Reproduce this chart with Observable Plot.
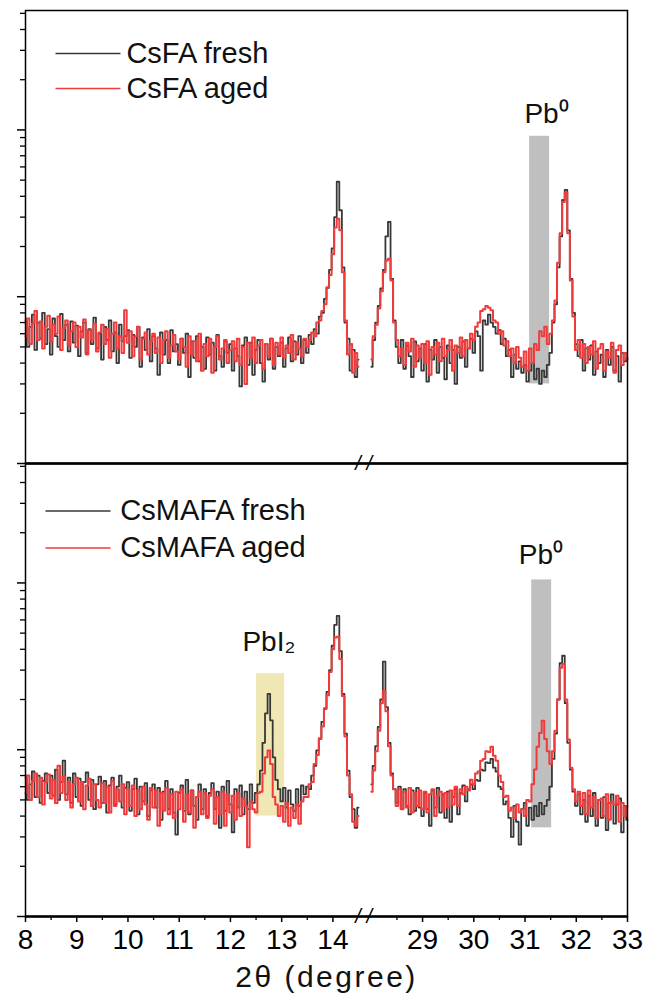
<!DOCTYPE html>
<html>
<head>
<meta charset="utf-8">
<script src="https://cdn.jsdelivr.net/npm/d3@7"></script>
<script src="https://cdn.jsdelivr.net/npm/@observablehq/plot@0.6"></script>
<style>
  html, body { margin: 0; padding: 0; background: #fff; }
  #chart { width: 648px; height: 1001px; }
</style>
</head>
<body>
<div id="chart"></div>
<script>
// XRD patterns (log intensity, a.u.) of fresh and aged films, 0.05° steps.
// Low-angle segment: 8.00–14.50°, high-angle segment: 28.00–33.00°.
const step = 0.05;
const lowStart = 8.0;
const highStart = 28.0;

const csfaFreshLow = [
  72, 50, 66, 78, 48, 70, 56, 80, 52, 64,
  45, 74, 58, 50, 79, 55, 68, 47, 71, 53,
  67, 44, 62, 70, 46, 64, 52, 75, 49, 60,
  42, 66, 55, 72, 47, 61, 40, 68, 54, 58,
  63, 43, 59, 50, 66, 38, 57, 48, 64, 41,
  58, 49, 34, 61, 45, 55, 40, 63, 47, 52,
  39, 56, 46, 60, 33, 54, 43, 58, 41, 50,
  37, 57, 45, 53, 36, 59, 44, 38, 54, 46,
  52, 36, 49, 44, 29, 51, 57, 39, 53, 34,
  48, 55, 40, 31, 52, 42, 56, 37, 50, 44,
  53, 38, 49, 57, 41, 54, 45, 58, 40, 55,
  46, 59, 52, 64, 60, 76, 80, 97, 113, 145,
  195, 300, 489, 330, 150, 70, 56, 36, 48, 33,
  42
];
const csfaAgedLow = [
  58, 74, 52, 69, 82, 55, 71, 49, 66, 77,
  54, 68, 60, 76, 48, 65, 72, 51, 62, 70,
  50, 66, 57, 73, 45, 63, 55, 69, 47, 61,
  68, 52, 64, 43, 60, 70, 49, 58, 46, 83,
  53, 62, 44, 58, 66, 42, 56, 61, 45, 54,
  60, 46, 57, 40, 55, 62, 43, 51, 59, 47,
  42, 56, 50, 38, 58, 45, 54, 41, 60, 36,
  52, 44, 56, 35, 50, 58, 42, 49, 55, 40,
  48, 54, 41, 56, 39, 50, 30, 53, 43, 57,
  40, 51, 55, 37, 52, 44, 56, 39, 53, 45,
  57, 43, 51, 46, 59, 42, 53, 49, 44, 56,
  50, 55, 61, 58, 70, 72, 82, 90, 114, 135,
  180, 260, 293, 250, 140, 72, 45, 52, 35, 46,
  38
];
const csfaFreshHigh = [
  38, 55, 70, 88, 112, 145, 230, 281, 128, 72,
  50, 40, 55, 37, 51, 44, 33, 54, 41, 49,
  36, 52, 31, 48, 42, 55, 35, 50, 43, 32,
  51, 40, 48, 30, 50, 43, 54, 38, 49, 56,
  46, 62, 58, 36, 72, 68, 78, 70, 66, 60,
  63, 52, 56, 44, 48, 33, 45, 37, 41, 35,
  39, 31, 36, 40, 32, 37, 30, 36, 33, 39,
  46, 70, 90, 150, 230, 380, 437, 250, 128, 80,
  52, 44, 55, 36, 49, 42, 51, 34, 47, 40,
  45, 33, 48, 39, 50, 36, 44, 31, 46, 41,
  43
];
const csfaAgedHigh = [
  42, 58, 68, 85, 108, 140, 165, 169, 125, 70,
  55, 44, 49, 39, 53, 47, 56, 38, 51, 43,
  52, 40, 54, 34, 50, 45, 53, 41, 56, 44,
  48, 55, 36, 51, 46, 57, 44, 55, 49, 60,
  55, 66, 70, 82, 84, 88, 86, 83, 72, 70,
  60, 62, 51, 54, 44, 49, 40, 50, 43, 38,
  47, 36, 49, 40, 52, 48, 62, 58, 66, 52,
  60, 72, 95, 160, 240, 370, 420, 240, 125, 76,
  48, 55, 43, 52, 40, 50, 45, 54, 37, 49,
  52, 36, 47, 43, 53, 35, 48, 51, 39, 46,
  42
];
const csmafaFreshLow = [
  68, 50, 62, 74, 52, 70, 48, 65, 72, 55,
  70, 53, 76, 50, 64, 86, 54, 68, 48, 72,
  52, 67, 46, 64, 73, 50, 66, 44, 62, 69,
  48, 65, 42, 61, 68, 47, 60, 70, 45, 59,
  64, 43, 58, 67, 41, 60, 49, 63, 40, 57,
  62, 45, 59, 38, 56, 65, 44, 58, 42, 31,
  55, 61, 43, 66, 41, 57, 46, 38, 62, 44,
  58, 40, 55, 63, 44, 56, 34, 60, 43, 65,
  47, 32, 58, 45, 61, 41, 56, 44, 62, 48,
  55, 62, 75, 110, 165, 216, 150, 90, 66, 58,
  49, 59, 45, 57, 47, 43, 58, 46, 61, 54,
  60, 58, 70, 80, 99, 116, 147, 176, 222, 300,
  420, 560, 634, 390, 216, 125, 75, 52, 44, 34,
  45
];
const csmafaAgedLow = [
  55, 70, 50, 65, 72, 52, 68, 47, 64, 71,
  51, 66, 48, 80, 55, 69, 50, 64, 45, 62,
  68, 49, 64, 44, 61, 67, 46, 62, 50, 45,
  63, 48, 60, 42, 65, 46, 58, 49, 62, 41,
  58, 46, 61, 40, 57, 44, 60, 47, 38, 59,
  45, 57, 35, 55, 43, 59, 41, 54, 39, 56,
  44, 58, 37, 54, 42, 57, 34, 52, 56, 41,
  55, 39, 53, 58, 36, 52, 41, 56, 35, 54,
  42, 53, 38, 55, 40, 51, 46, 26, 49, 44,
  42, 55, 56, 72, 90, 99, 82, 52, 47, 40,
  46, 37, 48, 35, 45, 39, 47, 36, 49, 52,
  52, 62, 64, 82, 93, 117, 138, 177, 212, 292,
  400, 470, 475, 350, 210, 120, 70, 54, 37, 35,
  40
];
const csmafaFreshHigh = [
  62, 80, 105, 137, 200, 337, 180, 110, 72, 58,
  48, 60, 44, 58, 46, 41, 57, 43, 59, 45,
  40, 55, 44, 35, 57, 45, 59, 42, 54, 39,
  56, 37, 52, 58, 41, 55, 61, 49, 58, 62,
  58, 66, 65, 76, 75, 84, 83, 88, 78, 74,
  60, 58, 47, 49, 39, 30, 46, 37, 27, 44,
  48, 35, 45, 38, 46, 40, 48, 41, 46, 50,
  60, 88, 125, 200, 330, 366, 190, 110, 76, 56,
  46, 54, 41, 50, 37, 53, 40, 55, 35, 50,
  39, 52, 33, 48, 54, 36, 47, 51, 32, 46,
  38
];
const csmafaAgedHigh = [
  56, 75, 98, 130, 190, 225, 170, 105, 70, 58,
  46, 58, 44, 56, 45, 59, 42, 55, 46, 57,
  44, 56, 42, 54, 58, 40, 53, 56, 43, 55,
  45, 57, 47, 60, 46, 58, 54, 60, 57, 66,
  62, 72, 74, 86, 88, 98, 97, 104, 92, 86,
  70, 64, 52, 53, 43, 45, 39, 47, 42, 44,
  40, 50, 49, 62, 76, 104, 126, 149, 116, 98,
  82, 98, 130, 200, 310, 327, 200, 115, 78, 58,
  49, 56, 46, 55, 41, 57, 45, 52, 39, 50,
  51, 40, 54, 38, 49, 47, 53, 37, 48, 40,
  46
];

const panels = ["CsFA", "CsMAFA"];
const samples = ["fresh", "aged"];

// Broken 2θ axis: 8–14.6° continues directly into 27.85–33°
const breakLow = 14.6;
const breakHigh = 27.85;
const xMin = 8;
const xMax = 33;

const xTicksLow = [8, 9, 10, 11, 12, 13, 14];
const xTicksHigh = [29, 30, 31, 32, 33];
const xMinorLow = [8.5, 9.5, 10.5, 11.5, 12.5, 13.5];
const xMinorHigh = [28.5, 29.5, 30.5, 31.5, 32.5];
const xLabel = "2θ (degree)";

const yMajor = [10, 100, 1000];
const yMinor = [20, 30, 40, 50, 60, 70, 80, 90, 200, 300, 400, 500, 600, 700, 800, 900, 2000, 3000, 4000, 5000];
const yMin = 10;
const yMax = 5200;

// Highlighted phase regions (2θ range and intensity span)
const bandPanel = ["CsFA", "CsMAFA", "CsMAFA"];
const bandPhase = ["Pb0", "Pb0", "PbI2"];
const bandFrom = [31.09, 31.13, 12.51];
const bandTo = [31.48, 31.52, 13.06];
const bandLow = [30, 34, 40];
const bandHigh = [916, 1042, 286];

// Phase annotations
const notePanel = ["CsFA", "CsMAFA", "CsMAFA"];
const noteText = ["Pb⁰", "Pb⁰", "PbI₂"];
const noteX = [31.42, 31.31, 12.75];
const noteY = [1248, 1462, 444];

// --- mapping of the broken axis onto one continuous position ---
const gap = breakHigh - breakLow;
const toU = x => (x <= breakLow ? x : x - gap);
const fromU = u => (u <= breakLow ? u : u + gap);

const colors = {fresh: "#383838", aged: "#ef3b3b", Pb0: "#bfbfbf", PbI2: "#efe8b4"};

const series = [
  {panel: "CsFA", sample: "fresh", start: lowStart, values: csfaFreshLow},
  {panel: "CsFA", sample: "fresh", start: highStart, values: csfaFreshHigh},
  {panel: "CsFA", sample: "aged", start: lowStart, values: csfaAgedLow},
  {panel: "CsFA", sample: "aged", start: highStart, values: csfaAgedHigh},
  {panel: "CsMAFA", sample: "fresh", start: lowStart, values: csmafaFreshLow},
  {panel: "CsMAFA", sample: "fresh", start: highStart, values: csmafaFreshHigh},
  {panel: "CsMAFA", sample: "aged", start: lowStart, values: csmafaAgedLow},
  {panel: "CsMAFA", sample: "aged", start: highStart, values: csmafaAgedHigh}
];

const points = series.flatMap((s, k) =>
  s.values.map((v, i) => ({
    panel: s.panel,
    sample: s.sample,
    key: k,
    u: toU(+(s.start + i * step).toFixed(2)),
    v
  }))
);

const bands = bandPanel.map((p, i) => ({
  panel: p, phase: bandPhase[i],
  u1: toU(bandFrom[i]), u2: toU(bandTo[i]),
  y1: bandLow[i], y2: bandHigh[i]
}));

const notes = notePanel.map((p, i) => ({panel: p, text: noteText[i], u: toU(noteX[i]), y: noteY[i]}));

// legend placement inside each panel (x in axis units, one row per sample)
const legendLayout = {
  CsFA: {x1: 8.585, x2: 9.854, tx: 9.97, y: [2875, 1774]},
  CsMAFA: {x1: 8.39, x2: 9.66, tx: 9.85, y: [2702, 1622]}
};
const legend = panels.flatMap(p => samples.map((s, r) => ({
  panel: p, sample: s, label: `${p} ${s}`,
  x1: legendLayout[p].x1, x2: legendLayout[p].x2, tx: legendLayout[p].tx, y: legendLayout[p].y[r]
})));

const font = "'Liberation Sans', Arial, Helvetica, sans-serif";

const chart = Plot.plot({
  width: 648,
  height: 1001,
  marginTop: 9,
  marginBottom: 85,
  marginLeft: 25,
  marginRight: 21,
  style: {fontFamily: font, background: "#fff", color: "#000", overflow: "visible"},
  x: {domain: [xMin, toU(xMax)], axis: null},
  y: {type: "log", domain: [yMin, yMax], axis: null},
  fy: {domain: panels, axis: null, padding: 0},
  marks: [
    Plot.rect(bands, {x1: "u1", x2: "u2", y1: "y1", y2: "y2", fy: "panel", fill: d => colors[d.phase]}),
    Plot.line(points, {
      filter: d => d.sample === "fresh",
      x: "u", y: "v", z: "key", fy: "panel",
      stroke: colors.fresh, strokeWidth: 1.8, curve: "step"
    }),
    Plot.line(points, {
      filter: d => d.sample === "aged",
      x: "u", y: "v", z: "key", fy: "panel",
      stroke: colors.aged, strokeWidth: 2, curve: "step"
    }),
    Plot.frame({stroke: "#000", strokeWidth: 1.5}),
    Plot.ruleY([yMin], {stroke: "#000", strokeWidth: 2.5}),
    Plot.axisY({ticks: yMajor, tickSize: 8, tickFormat: () => "", strokeWidth: 1.5, label: null}),
    Plot.axisY({ticks: yMinor, tickSize: 5, tickFormat: () => "", strokeWidth: 1.3, label: null}),
    Plot.axisX({
      ticks: [...xTicksLow, ...xTicksHigh].map(toU),
      tickFormat: u => String(Math.round(fromU(u))),
      tickSize: 6, tickPadding: 7, strokeWidth: 1.5,
      fontSize: 28, label: null
    }),
    Plot.axisX({
      ticks: [...xMinorLow, ...xMinorHigh].map(toU),
      tickSize: 4, strokeWidth: 1.3, tickFormat: () => "", label: null
    }),
    // x-axis title under the bottom panel
    Plot.text([xLabel], {
      x: () => (xMin + toU(xMax)) / 2, y: () => yMin, fy: () => panels[1],
      text: d => d, dy: 61, fontSize: 30, lineAnchor: "middle", fill: "#111"
    }),
    // axis break marks
    Plot.text([breakLow], {x: d => d, y: () => yMin, text: () => "/ /", fontSize: 20, fontStyle: "italic", fill: "#000", lineAnchor: "middle"}),
    Plot.text(notes, {x: "u", y: "y", fy: "panel", text: "text", fontSize: 28, fill: "#111", lineAnchor: "middle"}),
    Plot.link(legend, {x1: "x1", x2: "x2", y1: "y", y2: "y", fy: "panel", stroke: d => colors[d.sample], strokeWidth: 1.5}),
    Plot.text(legend, {x: "tx", y: "y", fy: "panel", text: "label", fontSize: 29, textAnchor: "start", lineAnchor: "middle", fill: "#111"})
  ]
});

// slightly wider tracking on the axis title
d3.select(chart).selectAll("text")
  .filter(function () { return this.textContent === xLabel; })
  .attr("letter-spacing", "2.5px");

document.getElementById("chart").appendChild(chart);
</script>
</body>
</html>
